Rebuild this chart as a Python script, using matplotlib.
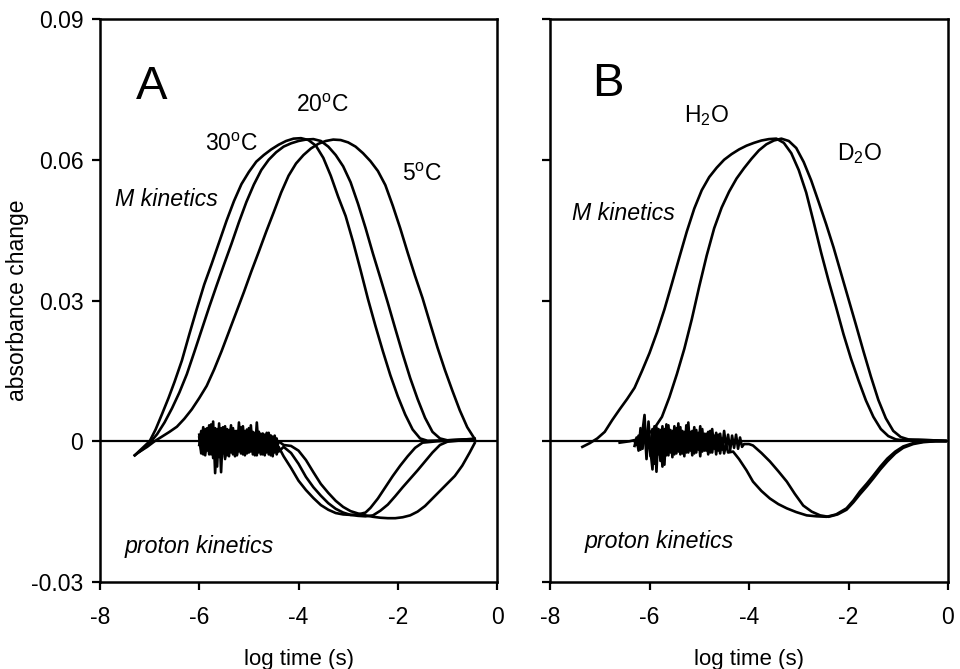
import numpy as np
import matplotlib
matplotlib.use("Agg")
import matplotlib.pyplot as plt

plt.rcParams['font.family'] = ['Liberation Sans', 'DejaVu Sans']
plt.rcParams['mathtext.fontset'] = 'custom'
plt.rcParams['mathtext.rm'] = 'Liberation Sans'
plt.rcParams['mathtext.it'] = 'Liberation Sans:italic'
plt.rcParams['axes.unicode_minus'] = False

# ---------------- panel A : temperature series ----------------
# M kinetics (log time, absorbance change)
m30_x = [-7.30, -7.15, -7.00, -6.88, -6.75, -6.62, -6.50, -6.35, -6.20, -6.05, -5.90, -5.75, -5.60, -5.45,
         -5.30, -5.15, -5.00, -4.85, -4.70, -4.55, -4.40, -4.25, -4.10, -3.95, -3.80, -3.65, -3.50, -3.35,
         -3.20, -3.05, -2.90, -2.75, -2.60, -2.45, -2.30, -2.15, -2.00, -1.85, -1.70, -1.55, -1.40, -1.00, -0.45]
m30_y = [-0.0030, -0.0015, 0.0000, 0.0025, 0.0058, 0.0092, 0.0126, 0.0172, 0.0228, 0.0282, 0.0334, 0.0378,
         0.0424, 0.0470, 0.0512, 0.0548, 0.0574, 0.0596, 0.0610, 0.0622, 0.0632, 0.0640, 0.0645, 0.0646,
         0.0642, 0.0630, 0.0604, 0.0566, 0.0521, 0.0480, 0.0425, 0.0365, 0.0303, 0.0246, 0.0192, 0.0141,
         0.0096, 0.0057, 0.0025, 0.0006, 0.0001, 0.0002, 0.0005]

m20_x = [-7.30, -7.15, -7.00, -6.85, -6.70, -6.55, -6.40, -6.25, -6.10, -5.95, -5.80, -5.65, -5.50, -5.35,
         -5.20, -5.05, -4.90, -4.75, -4.60, -4.45, -4.30, -4.15, -4.00, -3.85, -3.70, -3.55, -3.40, -3.25,
         -3.10, -2.95, -2.80, -2.65, -2.50, -2.35, -2.20, -2.05, -1.90, -1.75, -1.60, -1.45, -1.30, -1.15,
         -1.00, -0.45]
m20_y = [-0.0030, -0.0018, -0.0004, 0.0015, 0.0040, 0.0070, 0.0104, 0.0143, 0.0190, 0.0238, 0.0286, 0.0332,
         0.0377, 0.0421, 0.0467, 0.0510, 0.0547, 0.0578, 0.0600, 0.0616, 0.0628, 0.0635, 0.0640, 0.0643,
         0.0644, 0.0640, 0.0628, 0.0610, 0.0586, 0.0552, 0.0506, 0.0455, 0.0400, 0.0348, 0.0295, 0.0240,
         0.0186, 0.0135, 0.0090, 0.0050, 0.0020, 0.0006, 0.0002, 0.0005]

m5_x = [-7.20, -7.05, -6.90, -6.75, -6.60, -6.45, -6.30, -6.15, -6.00, -5.85, -5.70, -5.55, -5.40, -5.25,
        -5.10, -4.95, -4.80, -4.65, -4.50, -4.35, -4.20, -4.05, -3.90, -3.75, -3.60, -3.45, -3.30, -3.15,
        -3.00, -2.85, -2.70, -2.55, -2.40, -2.25, -2.10, -1.95, -1.80, -1.65, -1.50, -1.35, -1.20, -1.05,
        -0.90, -0.75, -0.60, -0.45]
m5_y = [-0.0022, -0.0012, 0.0000, 0.0010, 0.0020, 0.0031, 0.0048, 0.0068, 0.0092, 0.0118, 0.0153, 0.0192,
        0.0234, 0.0276, 0.0318, 0.0362, 0.0404, 0.0447, 0.0488, 0.0530, 0.0566, 0.0592, 0.0610, 0.0624,
        0.0634, 0.0640, 0.0643, 0.0642, 0.0637, 0.0628, 0.0614, 0.0597, 0.0576, 0.0546, 0.0502, 0.0454,
        0.0402, 0.0352, 0.0305, 0.0252, 0.0200, 0.0152, 0.0108, 0.0066, 0.0030, 0.0005]

# proton kinetics: noisy early part (mOD, sampled every 0.04 from -6.00) + smooth part
pA_noise_start = -6.00
pA_noise_step = 0.04
p30_noise = [0.8, -2.6, 2.4, -3.0, 2.8, -2.2, 3.4, -3.6, 2.8, -5.4, 3.8, -6.6, 3.0, -3.8, 2.6, -3.2,
             3.4, -2.8, 2.2, -3.0, 4.0, -2.6, 2.0, -3.0, 2.5, -2.4, 3.4, -2.8, 1.8, -3.0, 2.0, -2.8,
             1.6, -3.0, 1.6, -2.8, 1.2, -3.2, 0.8, -2.8, -1.2]
p20_noise = [-0.8, 2.2, -2.8, 2.6, -2.0, 3.4, -2.8, 4.2, -6.8, 2.6, -3.4, 2.8, -2.6, 3.2, -3.0, 2.4,
             -2.4, 2.8, -3.2, 2.2, -2.2, 3.0, -2.8, 2.2, -2.6, 2.8, -2.2, 2.0, -3.0, 4.0, -2.4, 1.6,
             -2.8, 1.4, -2.4, 1.8, -3.0, 1.0, -2.4, 0.6, -2.2]
p5_noise = [1.4, -1.8, 3.0, -2.4, 2.2, -2.8, 3.6, -2.2, 2.0, -3.2, 2.8, -2.6, 2.4, -3.4, 2.2, -2.4,
            2.8, -2.6, 2.0, -2.8, 2.2, -2.0, 3.2, -2.4, 2.0, -1.8, 2.4, -2.2, 1.6, -2.0, 2.0, -2.4,
            1.6, -1.8, 1.8, -2.2, 1.2, -2.0, 1.2, -1.8, 0.0]

p30_x = [-4.30, -4.15, -4.00, -3.85, -3.70, -3.55, -3.40, -3.25, -3.10, -2.95, -2.80, -2.65, -2.55, -2.40,
         -2.25, -2.10, -1.95, -1.80, -1.65, -1.50, -1.20, -0.80, -0.45]
p30_y = [-0.0032, -0.0057, -0.0084, -0.0104, -0.0121, -0.0136, -0.0146, -0.0153, -0.0156, -0.0157, -0.0156,
         -0.0152, -0.0142, -0.0122, -0.0098, -0.0074, -0.0052, -0.0032, -0.0014, -0.0003, 0.0000, 0.0002,
         0.0003]
p20_x = [-4.30, -4.15, -4.00, -3.85, -3.70, -3.55, -3.40, -3.25, -3.10, -2.95, -2.80, -2.65, -2.50, -2.35,
         -2.20, -2.05, -1.90, -1.75, -1.60, -1.45, -1.30, -1.15, -1.00, -0.70, -0.45]
p20_y = [-0.0012, -0.0025, -0.0048, -0.0076, -0.0098, -0.0116, -0.0132, -0.0144, -0.0152, -0.0157, -0.0159,
         -0.0160, -0.0158, -0.0148, -0.0135, -0.0117, -0.0098, -0.0080, -0.0062, -0.0043, -0.0024, -0.0008,
         -0.0001, 0.0002, 0.0003]
p5_x = [-4.30, -4.15, -4.00, -3.85, -3.70, -3.55, -3.40, -3.25, -3.10, -2.95, -2.80, -2.65, -2.50, -2.35,
        -2.20, -2.05, -1.90, -1.75, -1.60, -1.45, -1.30, -1.15, -1.00, -0.85, -0.70, -0.55, -0.45]
p5_y = [-0.0008, -0.0010, -0.0020, -0.0040, -0.0066, -0.0091, -0.0110, -0.0127, -0.0140, -0.0149, -0.0154,
        -0.0158, -0.0161, -0.0163, -0.0164, -0.0164, -0.0162, -0.0158, -0.0150, -0.0138, -0.0122, -0.0106,
        -0.0090, -0.0074, -0.0052, -0.0024, -0.0004]

# ---------------- panel B : H2O / D2O ----------------
mh_x = [-7.35, -7.20, -7.05, -6.90, -6.75, -6.60, -6.45, -6.30, -6.15, -6.00, -5.85, -5.70, -5.55, -5.40,
        -5.25, -5.10, -4.95, -4.80, -4.65, -4.50, -4.35, -4.20, -4.05, -3.90, -3.75, -3.60, -3.45, -3.30,
        -3.15, -3.00, -2.85, -2.70, -2.55, -2.40, -2.25, -2.10, -1.95, -1.80, -1.65, -1.50, -1.35, -1.20,
        -1.05, -0.90, -0.60, -0.30, -0.05]
mh_y = [-0.0012, -0.0004, 0.0006, 0.0020, 0.0045, 0.0068, 0.0090, 0.0114, 0.0150, 0.0188, 0.0232, 0.0281,
        0.0336, 0.0392, 0.0447, 0.0496, 0.0535, 0.0563, 0.0583, 0.0600, 0.0612, 0.0622, 0.0630, 0.0636,
        0.0641, 0.0644, 0.0645, 0.0636, 0.0614, 0.0578, 0.0530, 0.0467, 0.0402, 0.0342, 0.0286, 0.0228,
        0.0176, 0.0130, 0.0087, 0.0052, 0.0026, 0.0011, 0.0004, 0.0002, 0.0003, 0.0002, 0.0001]

md_x = [-6.60, -6.40, -6.20, -6.05, -5.90, -5.75, -5.60, -5.45, -5.30, -5.15, -5.00, -4.85, -4.70, -4.55,
        -4.40, -4.25, -4.10, -3.95, -3.80, -3.65, -3.50, -3.35, -3.20, -3.05, -2.90, -2.75, -2.60, -2.45,
        -2.30, -2.15, -2.00, -1.85, -1.70, -1.55, -1.40, -1.25, -1.10, -0.95, -0.80, -0.60, -0.30, -0.05]
md_y = [-0.0003, 0.0000, 0.0005, 0.0013, 0.0028, 0.0052, 0.0094, 0.0143, 0.0197, 0.0260, 0.0330, 0.0396,
        0.0454, 0.0498, 0.0532, 0.0560, 0.0582, 0.0602, 0.0620, 0.0633, 0.0641, 0.0645, 0.0640, 0.0625,
        0.0595, 0.0556, 0.0510, 0.0463, 0.0413, 0.0358, 0.0303, 0.0248, 0.0192, 0.0138, 0.0088, 0.0049,
        0.0022, 0.0009, 0.0004, 0.0003, 0.0002, 0.0001]

pB_noise_start = -6.30
pB_noise_step = 0.04
ph_noise = [0.0, -0.8, 1.2, -1.8, 2.2, 5.6, -2.8, 4.2, -2.0, -6.0, 3.2, -6.5, 2.6, -4.2, 3.2, -5.0,
            3.6, -3.0, 2.4, -3.4, 3.2, -2.6, 3.8, -2.8, 2.2, -3.2, 3.4, -2.4, 2.0, -3.0, 3.0, -2.4,
            1.8, -3.2, 2.6, -2.0, 1.6, -2.8, 2.2, -2.4, 1.2, -2.8, 1.4, -2.6, 0.6, -2.6, -0.6, -2.4]
pd_noise = [-1.0, 0.8, -2.0, 2.8, -1.6, 3.6, -3.8, 2.2, -3.2, 2.6, -4.8, 3.0, -2.8, 2.4, -5.4, 2.6,
            -3.0, 3.4, -2.4, 2.2, -2.8, 2.8, -2.2, 3.0, -2.6, 2.0, -2.4, 4.0, -2.0, 2.2, -2.6, 2.4,
            -1.8, 3.2, -2.2, 1.6, -2.0, 2.0, -2.4, 2.6, -1.6, 1.8, -2.0, 1.6, -1.8, 2.2, -1.4, 1.4,
            -2.0, 1.2, -1.4, 1.4, -1.6, 0.8, -1.2, -0.6]

ph_x = [-4.32, -4.20, -4.05, -3.92, -3.75, -3.58, -3.41, -3.24, -3.05, -2.84, -2.64, -2.44, -2.25, -2.04,
        -1.90, -1.77, -1.63, -1.50, -1.36, -1.22, -1.06, -0.90, -0.70, -0.50, -0.25, -0.05]
ph_y = [-0.0022, -0.0038, -0.0062, -0.0086, -0.0106, -0.0122, -0.0134, -0.0143, -0.0151, -0.0158, -0.0160,
        -0.0161, -0.0156, -0.0143, -0.0126, -0.0107, -0.0090, -0.0073, -0.0054, -0.0037, -0.0022, -0.0011,
        -0.0004, -0.0001, 0.0000, 0.0000]
pd_x = [-4.00, -3.92, -3.75, -3.58, -3.41, -3.24, -3.08, -2.91, -2.74, -2.57, -2.40, -2.22, -2.04, -1.90,
        -1.77, -1.63, -1.50, -1.36, -1.22, -1.06, -0.90, -0.70, -0.50, -0.25, -0.05]
pd_y = [-0.0006, -0.0009, -0.0025, -0.0043, -0.0064, -0.0086, -0.0112, -0.0137, -0.0150, -0.0158, -0.0161,
        -0.0156, -0.0146, -0.0130, -0.0113, -0.0096, -0.0079, -0.0060, -0.0043, -0.0026, -0.0014, -0.0006,
        -0.0002, 0.0000, 0.0000]

x_ticks = [-8, -6, -4, -2, 0]
x_tick_labels = ['-8', '-6', '-4', '-2', '0']
y_ticks = [-0.03, 0, 0.03, 0.06, 0.09]
y_tick_labels = ['-0.03', '0', '0.03', '0.06', '0.09']


def proton_curve(noise, start, step, xs, ys):
    # noisy early section followed by the smooth part
    nx = start + step * np.arange(len(noise))
    ny = np.array(noise) / 1000.0
    return np.concatenate([nx, xs]), np.concatenate([ny, ys])


fig = plt.figure(figsize=(9.6, 6.69), dpi=100)
axA = fig.add_axes([100 / 960, 1 - 582 / 669, 397 / 960, 563 / 669])
axB = fig.add_axes([550 / 960, 1 - 582 / 669, 398 / 960, 563 / 669])

lw = 1.9
for ax in (axA, axB):
    ax.set_xlim(-8, 0)
    ax.set_ylim(-0.03, 0.09)
    ax.axhline(0, color='k', lw=1.6, zorder=1)
    for s in ax.spines.values():
        s.set_linewidth(1.8)
    ax.set_xticks(x_ticks)
    ax.set_xticklabels(x_tick_labels)
    ax.set_yticks(y_ticks)
    ax.tick_params(direction='out', length=6, width=1.6, labelsize=16.5, top=False, right=False)
    ax.tick_params(axis='x', pad=11)
    ax.tick_params(axis='y', pad=6)
    ax.set_xlabel('log time (s)', fontsize=16, labelpad=15)

axA.set_yticklabels(y_tick_labels)
axB.set_yticklabels([])
axA.set_ylabel('absorbance change', fontsize=16.5)
axA.yaxis.set_label_coords(-0.18, 0.5)

# panel A
for xs, ys in [(m30_x, m30_y), (m20_x, m20_y), (m5_x, m5_y)]:
    axA.plot(xs, ys, color='k', lw=lw, solid_joinstyle='round')
for noise, xs, ys in [(p30_noise, p30_x, p30_y), (p20_noise, p20_x, p20_y), (p5_noise, p5_x, p5_y)]:
    px, py = proton_curve(noise, pA_noise_start, pA_noise_step, xs, ys)
    axA.plot(px, py, color='k', lw=lw, solid_joinstyle='round')

# panel B
for xs, ys in [(mh_x, mh_y), (md_x, md_y)]:
    axB.plot(xs, ys, color='k', lw=lw, solid_joinstyle='round')
for noise, xs, ys in [(ph_noise, ph_x, ph_y), (pd_noise, pd_x, pd_y)]:
    px, py = proton_curve(noise, pB_noise_start, pB_noise_step, xs, ys)
    axB.plot(px, py, color='k', lw=lw, solid_joinstyle='round')

# annotations
axA.text(-7.27, 0.0729, 'A', fontsize=34)
axB.text(-7.16, 0.0736, 'B', fontsize=34)
axA.text(-5.88, 0.0619, r'30$^{\mathrm{o}}$C', fontsize=16.5)
axA.text(-4.05, 0.0701, r'20$^{\mathrm{o}}$C', fontsize=16.5)
axA.text(-1.91, 0.0555, r'5$^{\mathrm{o}}$C', fontsize=16.5)
axB.text(-5.31, 0.0680, r'H$_{\mathrm{2}}$O', fontsize=16.5)
axB.text(-2.23, 0.0600, r'D$_{\mathrm{2}}$O', fontsize=16.5)
axA.text(-7.70, 0.0501, 'M kinetics', fontsize=16.7, style='italic')
axB.text(-7.56, 0.0471, 'M kinetics', fontsize=16.7, style='italic')
axA.text(-7.50, -0.0239, 'proton kinetics', fontsize=16.7, style='italic')
axB.text(-7.30, -0.0228, 'proton kinetics', fontsize=16.7, style='italic')

fig.savefig('out.png', dpi=100)
